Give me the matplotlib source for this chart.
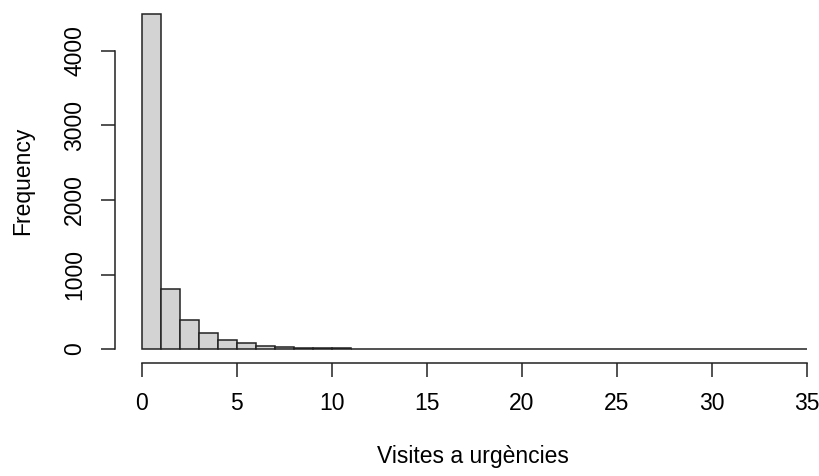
import numpy as np
import matplotlib
matplotlib.use("Agg")
import matplotlib.pyplot as plt

plt.rcParams['font.family'] = ['Liberation Sans', 'DejaVu Sans']

# histogram of visits, bins of width 1 from 0 to 35
bin_edges = np.arange(0, 36, 1)
counts = [4500, 800, 385, 215, 128, 80, 48, 25, 10, 18, 14, 5, 4, 3, 2, 2, 1, 2,
          1, 1, 1, 1, 0, 1, 1, 0, 0, 0, 0, 0, 0, 0, 0, 0, 1]
xticks = [0, 5, 10, 15, 20, 25, 30, 35]
yticks = [0, 1000, 2000, 3000, 4000]

W, H = 820, 476
fig = plt.figure(figsize=(W / 100, H / 100), dpi=100)

# plot region in pixels
x0, x1 = 115.4, 820.0
y_top, y_bot = 0.2, 362.5
ax = fig.add_axes([x0 / W, 1 - y_bot / H, (x1 - x0) / W, (y_bot - y_top) / H])

ax.bar(bin_edges[:-1], counts, width=1, align='edge', color='#d3d3d3',
       edgecolor='#222222', linewidth=1.1)

ax.set_xlim(-1.4, 35.7)
ax.set_ylim(-180, 4680)

for s in ['top', 'right']:
    ax.spines[s].set_visible(False)
ax.spines['left'].set_bounds(0, 4000)
ax.spines['bottom'].set_bounds(0, 35)
ax.spines['left'].set_linewidth(1.1)
ax.spines['bottom'].set_linewidth(1.1)
ax.spines['left'].set_color('#222222')
ax.spines['bottom'].set_color('#222222')

ax.set_xticks(xticks)
ax.set_yticks(yticks)
ax.tick_params(axis='both', direction='out', length=10, width=1.1,
               labelsize=16.5, color='#222222')
ax.tick_params(axis='x', pad=11)
ax.tick_params(axis='y', pad=11, labelrotation=90)
for lab in ax.get_yticklabels():
    lab.set_verticalalignment('center')

fig.text(473 / W, 1 - 456 / H, 'Visites a urgències', ha='center', va='center', fontsize=16.5)
fig.text(23 / W, 1 - 181 / H, 'Frequency', ha='center', va='center',
         rotation=90, fontsize=16.5)

fig.savefig('out.png', dpi=100)
